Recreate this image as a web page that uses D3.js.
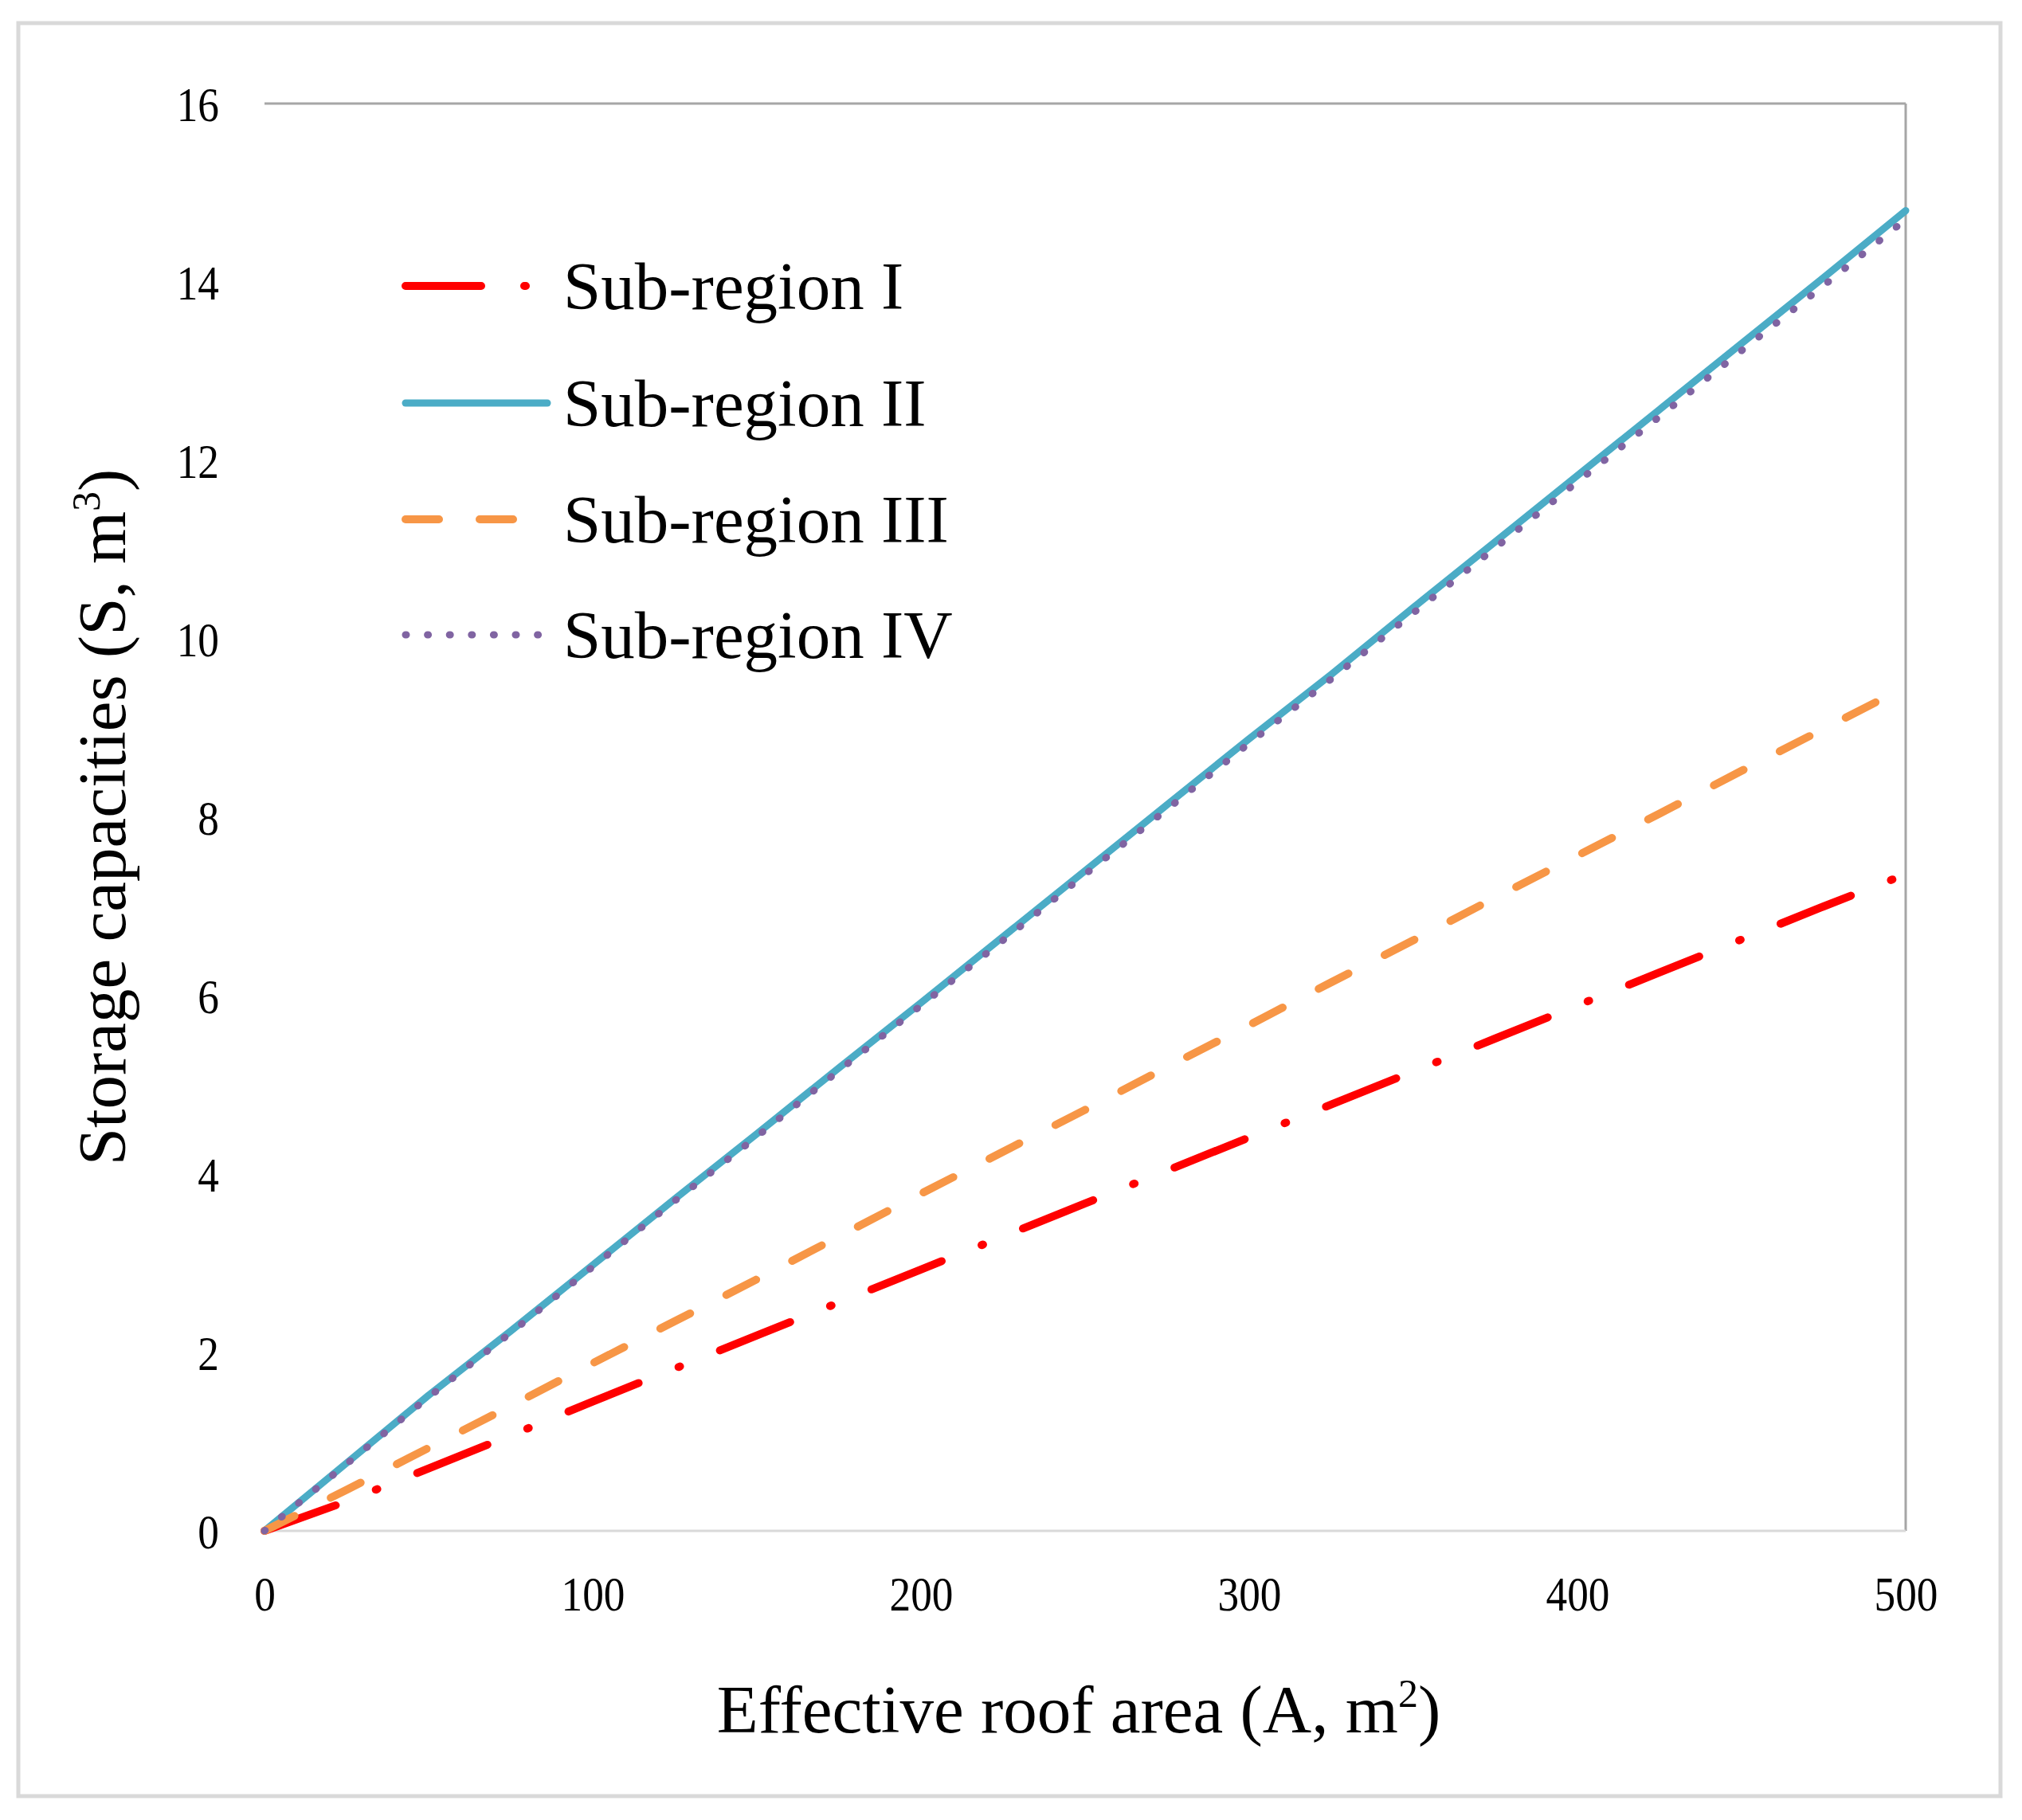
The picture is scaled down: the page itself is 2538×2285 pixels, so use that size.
<!DOCTYPE html>
<html>
<head>
<meta charset="utf-8">
<script src="https://cdn.jsdelivr.net/npm/d3@7"></script>
<style>
  body { margin: 0; background: #fff; }
  text { font-family: "Liberation Serif", "Times New Roman", serif; fill: #000; }
</style>
</head>
<body>
<div id="chart"></div>
<script>
// roof area (m2) at which storage was read
var areas = [0, 25, 50, 75, 100, 125, 150, 175, 200, 225, 250, 275, 300, 325, 350, 375, 400, 425, 450, 475, 500];

// storage capacities (m3)
var subRegion1 = [0, 0.33, 0.70, 1.07, 1.45, 1.82, 2.19, 2.56, 2.93, 3.30, 3.67, 4.04, 4.41, 4.78, 5.15, 5.52, 5.89, 6.26, 6.63, 7.00, 7.36];
var subRegion2 = [0, 0.76, 1.52, 2.24, 2.98, 3.72, 4.45, 5.19, 5.92, 6.66, 7.40, 8.14, 8.88, 9.60, 10.35, 11.09, 11.83, 12.57, 13.31, 14.05, 14.80];
var subRegion3 = [0, 0.46, 0.93, 1.40, 1.88, 2.35, 2.82, 3.30, 3.78, 4.25, 4.72, 5.20, 5.67, 6.15, 6.62, 7.10, 7.57, 8.04, 8.52, 8.99, 9.46];
var subRegion4 = [0, 0.75, 1.50, 2.22, 2.96, 3.70, 4.42, 5.16, 5.89, 6.62, 7.36, 8.09, 8.83, 9.55, 10.29, 11.02, 11.76, 12.49, 13.23, 13.96, 14.70];

var seriesNames = ["Sub-region I", "Sub-region II", "Sub-region III", "Sub-region IV"];
var xTicks = [0, 100, 200, 300, 400, 500];
var yTicks = [0, 2, 4, 6, 8, 10, 12, 14, 16];

var W = 2538, H = 2285;
var margin = {top: 130, right: 146, bottom: 363, left: 332};

var svg = d3.select("#chart").append("svg")
    .attr("width", W)
    .attr("height", H);

// outer frame
svg.append("rect")
    .attr("x", 23).attr("y", 29)
    .attr("width", 2488).attr("height", 2226)
    .attr("fill", "#fff")
    .attr("stroke", "#d9d9d9")
    .attr("stroke-width", 5);

var x = d3.scaleLinear().domain([0, 500]).range([margin.left, W - margin.right]);
var y = d3.scaleLinear().domain([0, 16]).range([H - margin.bottom, margin.top]);

// plot area lines: top, right and bottom axis
svg.append("line")
    .attr("x1", x(0)).attr("x2", x(500))
    .attr("y1", y(16)).attr("y2", y(16))
    .attr("stroke", "#a6a6a6").attr("stroke-width", 3);
svg.append("line")
    .attr("x1", x(500)).attr("x2", x(500))
    .attr("y1", y(16)).attr("y2", y(0))
    .attr("stroke", "#a6a6a6").attr("stroke-width", 3);
svg.append("line")
    .attr("x1", x(0)).attr("x2", x(500))
    .attr("y1", y(0)).attr("y2", y(0))
    .attr("stroke", "#d9d9d9").attr("stroke-width", 3);

// axes (labels only)
var xAxis = svg.append("g")
    .attr("transform", "translate(0," + y(0) + ")")
    .call(d3.axisBottom(x).tickValues(xTicks).tickSize(0).tickPadding(100));
var yAxis = svg.append("g")
    .attr("transform", "translate(" + (x(0) - 57) + ",0)")
    .call(d3.axisLeft(y).tickValues(yTicks).tickSize(0).tickPadding(0));

[xAxis, yAxis].forEach(function (a) {
    a.select(".domain").remove();
    a.selectAll("text")
        .style("font-family", '"Liberation Serif", "Times New Roman", serif')
        .style("font-size", "62px")
        .attr("fill", "#000")
        .attr("transform", "scale(0.86,1)");
});
xAxis.selectAll("text").attr("dy", 0);
yAxis.selectAll("text").attr("dy", "0.34em");

// axis titles
var xt = svg.append("text")
    .attr("x", (x(0) + x(500)) / 2 - 8)
    .attr("y", 2175)
    .attr("text-anchor", "middle")
    .style("font-size", "85px");
xt.append("tspan").text("Effective roof area (A, m");
xt.append("tspan").attr("dy", -32).style("font-size", "50px").text("2");
xt.append("tspan").attr("dy", 32).text(")");

var yt = svg.append("text")
    .attr("transform", "translate(157," + ((y(0) + y(16)) / 2) + ") rotate(-90)")
    .attr("text-anchor", "middle")
    .style("font-size", "85px");
yt.append("tspan").text("Storage capacities (S, m");
yt.append("tspan").attr("dy", -32).style("font-size", "50px").text("3");
yt.append("tspan").attr("dy", 32).text(")");

// series
var styles = [
    {color: "#ff0000", dash: "95,54,2,54", width: 10},
    {color: "#4bacc6", dash: null, width: 9},
    {color: "#f79646", dash: "42,51", width: 10},
    {color: "#8064a2", dash: "1,26.6", width: 9}
];
var allSeries = [subRegion1, subRegion2, subRegion3, subRegion4];

var line = d3.line()
    .x(function (d, i) { return x(areas[i]); })
    .y(function (d) { return y(d); });

allSeries.forEach(function (vals, k) {
    var s = styles[k];
    svg.append("path")
        .datum(vals)
        .attr("d", line)
        .attr("fill", "none")
        .attr("stroke", s.color)
        .attr("stroke-width", s.width)
        .attr("stroke-linecap", "round")
        .attr("stroke-linejoin", "round")
        .attr("stroke-dasharray", s.dash);
});

// legend
var legendY = [359, 506, 652, 797];
var legend = svg.append("g");
seriesNames.forEach(function (name, k) {
    var s = styles[k];
    legend.append("line")
        .attr("x1", 509).attr("x2", 687)
        .attr("y1", legendY[k]).attr("y2", legendY[k])
        .attr("stroke", s.color)
        .attr("stroke-width", s.width)
        .attr("stroke-linecap", "round")
        .attr("stroke-dasharray", s.dash);
    legend.append("text")
        .attr("x", 707)
        .attr("y", legendY[k] + 29)
        .style("font-size", "85px")
        .text(name);
});
</script>
</body>
</html>
